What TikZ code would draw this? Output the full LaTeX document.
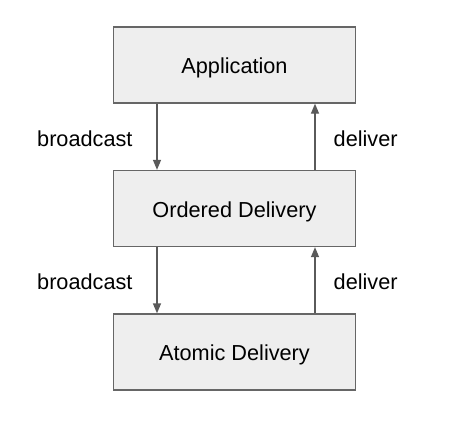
\documentclass[tikz,border=0pt]{standalone}
\usepackage{fontspec}
\setmainfont{Liberation Sans}
\usetikzlibrary{arrows.meta}
\definecolor{boxfill}{HTML}{EEEEEE}
\definecolor{boxline}{HTML}{666666}
\definecolor{arrowline}{HTML}{5A5A5A}
\begin{document}
\begin{tikzpicture}[x=1pt,y=-1pt,
  layerbox/.style={draw=boxline, fill=boxfill, line width=1.3pt, minimum width=242pt, minimum height=76pt, inner sep=0pt, text height=17pt, text depth=-1pt, font=\fontsize{21.7}{26}\selectfont},
  flow/.style={draw=arrowline, line width=1.3pt, -{Triangle[width=8pt,length=10pt]}},
  lbl/.style={font=\fontsize{21.7}{26}\selectfont, inner sep=0pt, anchor=base west}]
\useasboundingbox (0,0) rectangle (469,423);
\node[layerbox] (app) at (234.5,65) {Application};
\node[layerbox] (ord) at (234.5,208.5) {Ordered Delivery};
\node[layerbox] (atm) at (234.5,352) {Atomic Delivery};
\draw[flow] (app.south -| 157,0) -- (ord.north -| 157,0);
\draw[flow] (ord.north -| 315,0) -- (app.south -| 315,0);
\draw[flow] (ord.south -| 157,0) -- (atm.north -| 157,0);
\draw[flow] (atm.north -| 315,0) -- (ord.south -| 315,0);
\node[lbl] (b1) at (37,146) {broadcast};
\node[lbl] (d1) at (333.5,146) {deliver};
\node[lbl] (b2) at (37,289.5) {broadcast};
\node[lbl] (d2) at (333.5,289.5) {deliver};
\end{tikzpicture}
\end{document}
